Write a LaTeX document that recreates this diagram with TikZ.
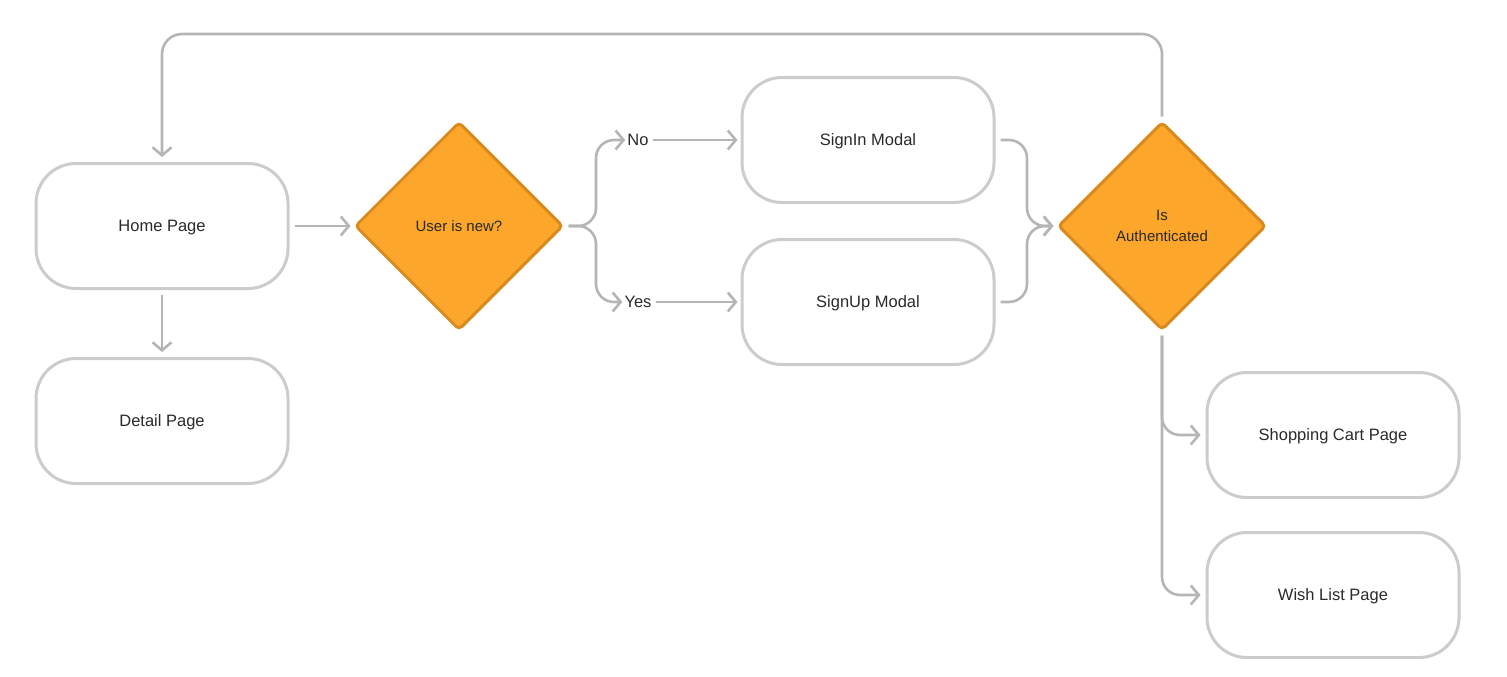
\documentclass[tikz,border=0pt]{standalone}
\usepackage{fontspec}
\setmainfont{Liberation Sans}
\usetikzlibrary{shapes.geometric,arrows.meta,calc}
\definecolor{boxline}{HTML}{CCCCCC}
\definecolor{wireline}{HTML}{B5B5B5}
\definecolor{decfill}{HTML}{FCA62B}
\definecolor{decline}{HTML}{D98A1F}
\definecolor{txt}{HTML}{2A2A2A}
\tikzset{
  pagebox/.style={draw=boxline, line width=3pt, fill=white, rounded corners=40pt,
    minimum width=252pt, minimum height=125pt, text=txt, text depth=0pt,
    font=\fontsize{16.5}{19}\selectfont},
  decision/.style={diamond, draw=decline, fill=decfill, line width=3pt, rounded corners=4pt,
    minimum width=208pt, minimum height=208pt, inner sep=0pt, text=txt,
    align=center, font=\fontsize{15}{21}\selectfont},
  tag/.style={text=txt, inner sep=2pt, font=\fontsize{16.5}{19}\selectfont},
  conn/.style={draw=wireline, line width=2.6pt, rounded corners=18pt,
    -{Straight Barb[length=8pt,width=19pt,line width=2.6pt]}}
}
\begin{document}
\begin{tikzpicture}[x=1pt,y=-1pt]
\useasboundingbox (0,0) rectangle (1507,677);

% pages
\node[pagebox] (home)   at (162,226)  {Home Page};
\node[pagebox] (detail) at (162,421)  {Detail Page};
\node[pagebox] (signin) at (868,140)  {SignIn Modal};
\node[pagebox] (signup) at (868,302)  {SignUp Modal};
\node[pagebox] (cart)   at (1333,435) {Shopping Cart Page};
\node[pagebox] (wish)   at (1333,595) {Wish List Page};

% decisions
\node[decision] (isnew) at (459,226)  {User is new?};
\node[decision] (auth)  at (1162,226) {Is\\Authenticated};

% branch labels
\node[tag] (no)  at (638,140) {No};
\node[tag] (yes) at (638,302) {Yes};

% bend points
\coordinate (split)  at (596,226);
\coordinate (merge)  at (1027,226);
\coordinate (loopR)  at (1162,34);
\coordinate (loopL)  at (162,34);

% connectors
\draw[conn, shorten <=5pt, shorten >=3pt] (home.east) -- (isnew.west);
\draw[conn, shorten <=5pt, shorten >=5pt] (home.south) -- (detail.north);

\draw[conn, shorten <=3pt] ([xshift=1pt]isnew.east) -- (split) |- (no.west);
\draw[conn, shorten <=3pt] ([xshift=1pt]isnew.east) -- (split) |- (yes.west);
\draw[conn, shorten <=2pt, shorten >=3pt] (no.east) -- (signin.west);
\draw[conn, shorten <=2pt, shorten >=3pt] (yes.east) -- (signup.west);

\draw[conn, shorten <=5pt, shorten >=3pt] (signin.east) -| (merge) -- (auth.west);
\draw[conn, shorten <=5pt, shorten >=3pt] (signup.east) -| (merge) -- (auth.west);

\draw[conn, rounded corners=20pt, shorten <=4pt, shorten >=5pt] (auth.north) -- (loopR) -- (loopL) -- (home.north);

\draw[conn, shorten <=4pt, shorten >=5pt] (auth.south) |- (cart.west);
\draw[conn, shorten <=4pt, shorten >=5pt] (auth.south) |- (wish.west);
\end{tikzpicture}
\end{document}
